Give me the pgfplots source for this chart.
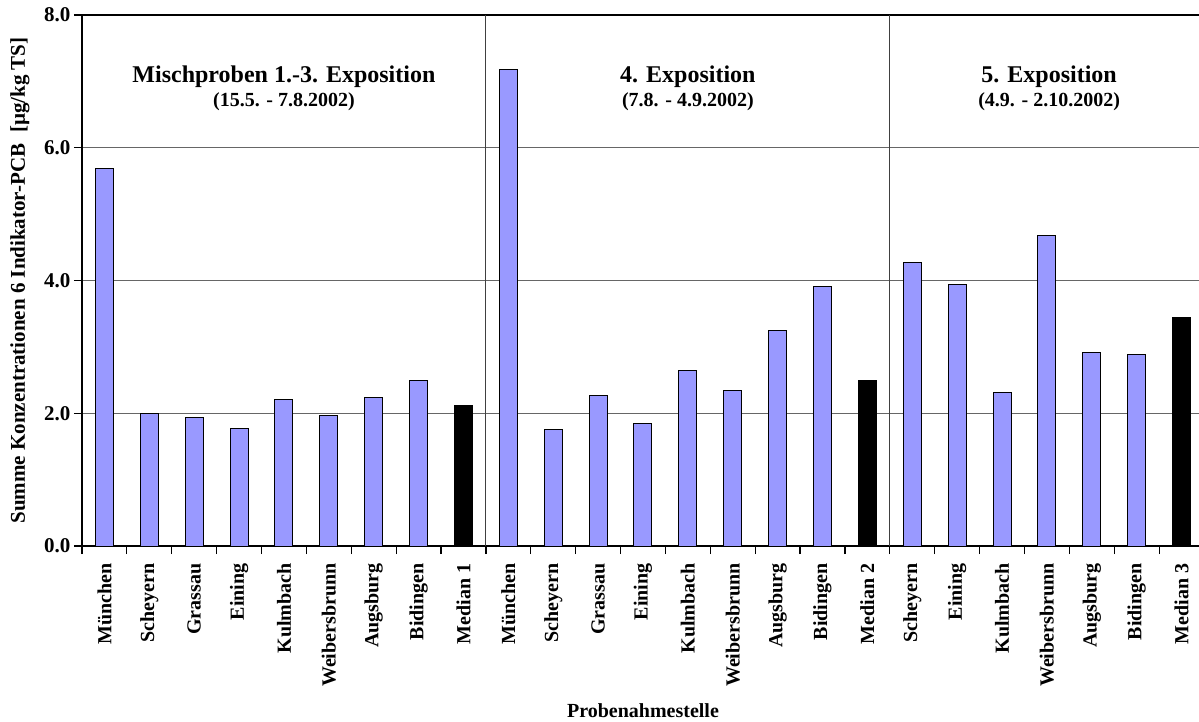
\documentclass[border=0pt]{standalone}
\usepackage{pgfplots}
\pgfplotsset{compat=1.18}
\usepackage{fontspec}
\setmainfont{Liberation Serif}
\definecolor{barblue}{HTML}{9999FF}
\newcommand{\fs}[1]{\fontsize{#1bp}{#1bp}\selectfont\bfseries}
\begin{document}
\begin{tikzpicture}
\begin{axis}[
  at={(0,0)}, anchor=south west,
  scale only axis, width=1122bp, height=531bp,
  xmin=-0.5, xmax=24.5, ymin=0, ymax=8,
  ytick={0,2,4,6,8},
  xtick={-0.5,0.5,...,24.5},
  x tick label as interval,
  xticklabels={München,Scheyern,Grassau,Eining,Kulmbach,Weibersbrunn,Augsburg,Bidingen,Median 1,
               München,Scheyern,Grassau,Eining,Kulmbach,Weibersbrunn,Augsburg,Bidingen,Median 2,
               Scheyern,Eining,Kulmbach,Weibersbrunn,Augsburg,Bidingen,Median 3},
  xtick pos=bottom, ytick pos=left,
  tick align=outside, major tick length=8bp,
  tick style={black, line width=1.2bp},
  /pgf/number format/fixed, /pgf/number format/fixed zerofill,
  /pgf/number format/precision=1, /pgf/number format/assume math mode=true,
  yticklabel style={font=\fs{21}},
  xticklabel style={font=\fs{20}, rotate=90, anchor=east, xshift=-6bp},
  ymajorgrids,
  major grid style={black!60, line width=1bp},
  axis line style={black, line width=1.5bp},
  xlabel={Probenahmestelle},
  ylabel={Summe Konzentrationen 6 Indikator-PCB\ \ [µg/kg TS]},
  x label style={font=\fs{20}, at={(axis description cs:0.5,-0.310)}, anchor=center},
  y label style={font=\fs{21}, at={(axis description cs:-0.0553,0.5)}, anchor=center},
  clip=false,
]
\draw[black!75, line width=1bp] (axis cs:8.5,0) -- (axis cs:8.5,8);
\draw[black!75, line width=1bp] (axis cs:17.5,0) -- (axis cs:17.5,8);
\addplot[ybar, bar width=18bp, bar shift=0pt, fill=barblue, draw=black, line width=1bp]
  coordinates {(0,5.68) (1,2.00) (2,1.94) (3,1.77) (4,2.21) (5,1.96) (6,2.24) (7,2.49)
               (9,7.18) (10,1.76) (11,2.27) (12,1.85) (13,2.64) (14,2.34) (15,3.25) (16,3.91)
               (18,4.27) (19,3.94) (20,2.31) (21,4.68) (22,2.92) (23,2.89)};
\addplot[ybar, bar width=18bp, bar shift=0pt, fill=black, draw=black, line width=1bp]
  coordinates {(8,2.11) (17,2.50) (24,3.44)};
\node[font=\fs{24}] at (axis cs:4,7.07) {Mischproben 1.-3. Exposition};
\node[font=\fs{20}] at (axis cs:4,6.69) {(15.5. - 7.8.2002)};
\node[font=\fs{24}] at (axis cs:13,7.07) {4. Exposition};
\node[font=\fs{20}] at (axis cs:13,6.69) {(7.8. - 4.9.2002)};
\node[font=\fs{24}] at (axis cs:21.05,7.07) {5. Exposition};
\node[font=\fs{20}] at (axis cs:21.05,6.69) {(4.9. - 2.10.2002)};
\end{axis}
\pgfresetboundingbox
\useasboundingbox (-82bp,-176bp) rectangle (1117bp,546bp);
\end{tikzpicture}
\end{document}
